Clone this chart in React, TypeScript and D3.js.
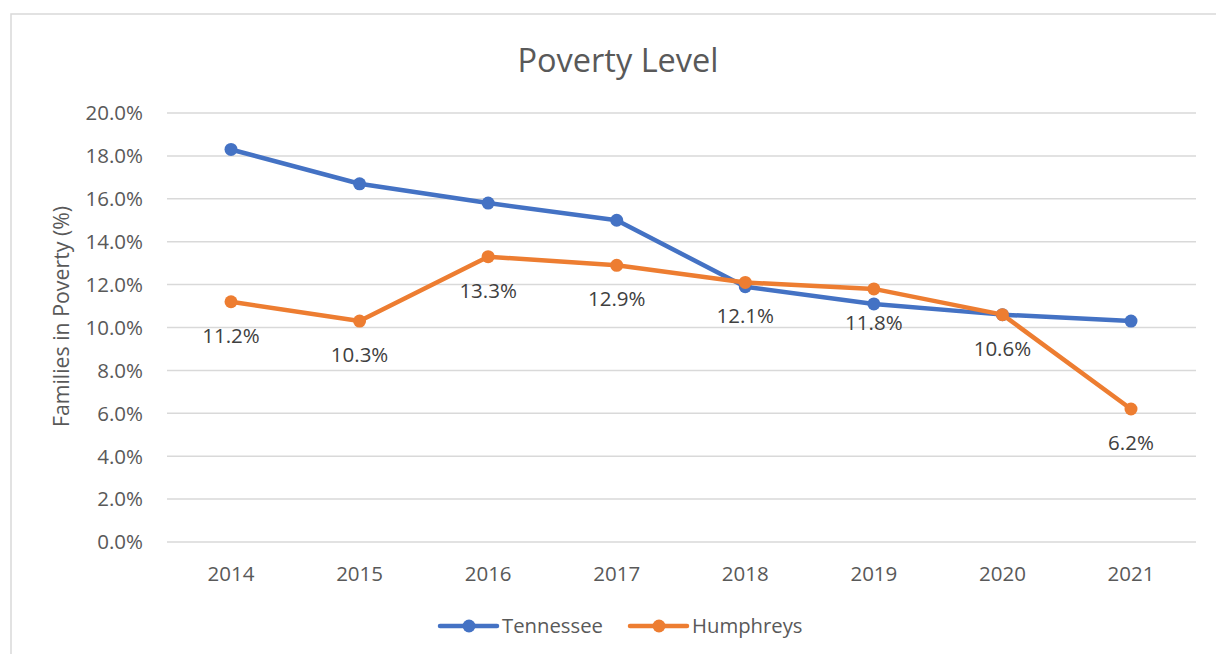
import React from "react";
import * as d3 from "d3";

const years = ["2014", "2015", "2016", "2017", "2018", "2019", "2020", "2021"];
const tennessee = [18.3, 16.7, 15.8, 15.0, 11.9, 11.1, 10.6, 10.3];
const humphreys = [11.2, 10.3, 13.3, 12.9, 12.1, 11.8, 10.6, 6.2];
const yTicks = [0, 2, 4, 6, 8, 10, 12, 14, 16, 18, 20];
const seriesNames = ["Tennessee", "Humphreys"];
const colors = ["#4472C4", "#ED7D31"];

const W = 1216;
const H = 654;
const FONT = "'Open Sans', sans-serif";
const TXT = "#595959";

export default function App() {
  const plotL = 167;
  const plotR = 1196;
  const x = d3.scalePoint<string>().domain(years).range([231, 1131]);
  const y = d3.scaleLinear().domain([0, 20]).range([542, 113]);
  const line = d3
    .line<number>()
    .x((_, i) => x(years[i]) as number)
    .y((d) => y(d));
  const data = [tennessee, humphreys];
  const legendX = [440, 630];

  return (
    <svg
      width={W}
      height={H}
      style={{ position: "absolute", left: 0, top: 0, background: "#fff" }}
      fontFamily={FONT}
    >
      <rect x={11} y={14} width={1300} height={800} fill="#fff" stroke="#d9d9d9" strokeWidth={1.5} />
      <text x={618} y={72} textAnchor="middle" fontSize={32.5} fill={TXT}>
        Poverty Level
      </text>
      {yTicks.map((t) => (
        <g key={t}>
          <line x1={plotL} x2={plotR} y1={y(t)} y2={y(t)} stroke="#d9d9d9" strokeWidth={1.5} />
          <text x={143} y={y(t) + 7.3} textAnchor="end" fontSize={20.5} fill={TXT}>
            {t.toFixed(1) + "%"}
          </text>
        </g>
      ))}
      {years.map((yr) => (
        <text key={yr} x={x(yr)} y={580.5} textAnchor="middle" fontSize={20.5} fill={TXT}>
          {yr}
        </text>
      ))}
      <text
        transform={`translate(69, 316.5) rotate(-90)`}
        textAnchor="middle"
        fontSize={21.3}
        fill={TXT}
      >
        Families in Poverty (%)
      </text>
      {data.map((s, k) => (
        <g key={k}>
          <path d={line(s) || ""} fill="none" stroke={colors[k]} strokeWidth={4.5} strokeLinejoin="round" strokeLinecap="round" />
          {s.map((v, i) => (
            <circle key={i} cx={x(years[i])} cy={y(v)} r={6.5} fill={colors[k]} />
          ))}
        </g>
      ))}
      {humphreys.map((v, i) => (
        <text key={i} x={x(years[i])} y={y(v) + 41} textAnchor="middle" fontSize={20.5} fill="#404040">
          {v.toFixed(1) + "%"}
        </text>
      ))}
      {seriesNames.map((n, k) => {
        const lx = legendX[k];
        return (
          <g key={n}>
            <line x1={lx} x2={lx + 57} y1={626} y2={626} stroke={colors[k]} strokeWidth={4.5} strokeLinecap="round" />
            <circle cx={lx + 29} cy={626} r={6.5} fill={colors[k]} />
            <text x={lx + 62} y={633} fontSize={20.3} fill={TXT}>
              {n}
            </text>
          </g>
        );
      })}
    </svg>
  );
}
